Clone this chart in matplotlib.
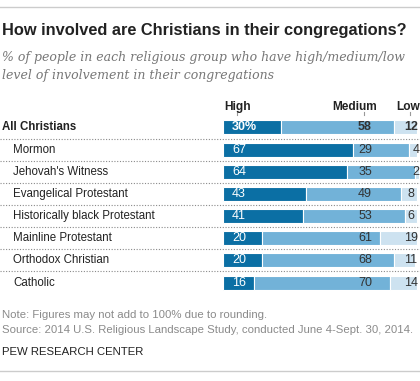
import matplotlib.pyplot as plt
from matplotlib.transforms import blended_transform_factory
from matplotlib.lines import Line2D

# Dados
grupos = ['All Christians', 'Mormon', "Jehovah's Witness", 'Evangelical Protestant',
          'Historically black Protestant', 'Mainline Protestant', 'Orthodox Christian', 'Catholic']
alto = [30, 67, 64, 43, 41, 20, 20, 16]
medio = [58, 29, 35, 49, 53, 61, 68, 70]
baixo = [12, 4, 2, 8, 6, 19, 11, 14]
cabecalhos = ['High', 'Medium', 'Low']

cor_alto = '#0b6fa4'
cor_medio = '#72b2d8'
cor_baixo = '#cde2f0'
fonte = ['Liberation Sans Narrow', 'Liberation Sans', 'DejaVu Sans']

W, H = 420, 381
fig = plt.figure(figsize=(W / 100, H / 100), dpi=100)
fig.patch.set_facecolor('white')

# eixo das barras: x de 223px a 417px, linhas de 116.4px a 293.6px
ax = fig.add_axes([223 / W, 1 - 293.6 / H, 194 / W, 177.2 / H])
ax.set_xlim(0, 100)
ax.set_ylim(len(grupos) - 0.5, -0.5)
ax.axis('off')

y = list(range(len(grupos)))
esq_medio = alto
esq_baixo = [a + m for a, m in zip(alto, medio)]
ax.barh(y, alto, height=0.63, color=cor_alto, edgecolor='white', linewidth=0.8, clip_on=False)
ax.barh(y, medio, left=esq_medio, height=0.63, color=cor_medio, edgecolor='white', linewidth=0.8, clip_on=False)
ax.barh(y, baixo, left=esq_baixo, height=0.63, color=cor_baixo, edgecolor='white', linewidth=0.8, clip_on=False)

for i in y:
    negrito = 'bold' if i == 0 else 'normal'
    txt_alto = f'{alto[i]}%' if i == 0 else str(alto[i])
    ax.text(4.6, i, txt_alto, color='white', fontsize=9, ha='left', va='center',
            family=fonte, weight=negrito, clip_on=False, zorder=5)
    ax.text(73.2, i, str(medio[i]), color='#333333', fontsize=9, ha='center', va='center',
            family=fonte, weight=negrito, clip_on=False, zorder=5)
    xb = 99.5 if baixo[i] < 5 else 96.9
    ax.text(xb, i, str(baixo[i]), color='#333333', fontsize=9, ha='center', va='center',
            family=fonte, weight=negrito, clip_on=False, zorder=5)

# cabeçalhos das colunas
ax.text(0.6, -0.92, cabecalhos[0], fontsize=8.6, weight='bold', ha='left', va='center',
        family=fonte, color='#222222', clip_on=False)
ax.text(79.5, -0.92, cabecalhos[1], fontsize=8.6, weight='bold', ha='right', va='center',
        family=fonte, color='#222222', clip_on=False)
ax.text(101.5, -0.92, cabecalhos[2], fontsize=8.6, weight='bold', ha='right', va='center',
        family=fonte, color='#222222', clip_on=False)
for xt in [7.2, 72.7, 96.4]:
    ax.plot([xt, xt], [-0.7, -0.55], color='#999999', lw=0.8, clip_on=False)

# rótulos das categorias e linhas pontilhadas
trans = blended_transform_factory(fig.transFigure, ax.transData)
for i, g in enumerate(grupos):
    if i == 0:
        fig.text(2 / W, i, g, transform=trans, fontsize=8.3, weight='bold', va='center',
                 family=fonte, color='#222222')
    else:
        fig.text(13 / W, i, g, transform=trans, fontsize=8.3, va='center',
                 family=fonte, color='#222222')
    if i < len(grupos) - 1:
        ax.plot([0, 1], [i + 0.5, i + 0.5], transform=trans, color='#8a8a8a', lw=0.8,
                ls=(0, (1, 1.5)), clip_on=False)

# linhas de topo e base
fig.add_artist(Line2D([0, 1], [1 - 7 / H, 1 - 7 / H], color='#cccccc', lw=1))
fig.add_artist(Line2D([0, 1], [1 - 371 / H, 1 - 371 / H], color='#cccccc', lw=1))

# título e subtítulo
fig.text(2 / W, 1 - 30 / H, 'How involved are Christians in their congregations?',
         fontsize=11.8, weight='bold', va='center', family=['Liberation Sans', 'DejaVu Sans'],
         color='#222222')
fig.text(2 / W, 1 - 57 / H, '% of people in each religious group who have high/medium/low',
         fontsize=9.0, style='italic', va='center', family=['DejaVu Serif'],
         color='#777777')
fig.text(2 / W, 1 - 75 / H, 'level of involvement in their congregations',
         fontsize=9.0, style='italic', va='center', family=['DejaVu Serif'],
         color='#777777')

# notas
fig.text(2 / W, 1 - 315 / H, 'Note: Figures may not add to 100% due to rounding.',
         fontsize=8.2, va='center', family=fonte, color='#8a8a8a')
fig.text(2 / W, 1 - 330 / H, 'Source: 2014 U.S. Religious Landscape Study, conducted June 4-Sept. 30, 2014.',
         fontsize=8.2, va='center', family=fonte, color='#8a8a8a')
fig.text(2 / W, 1 - 352 / H, 'PEW RESEARCH CENTER',
         fontsize=8.2, va='center', family=fonte, color='#222222')

fig.savefig('out.png', dpi=100, facecolor='white')
